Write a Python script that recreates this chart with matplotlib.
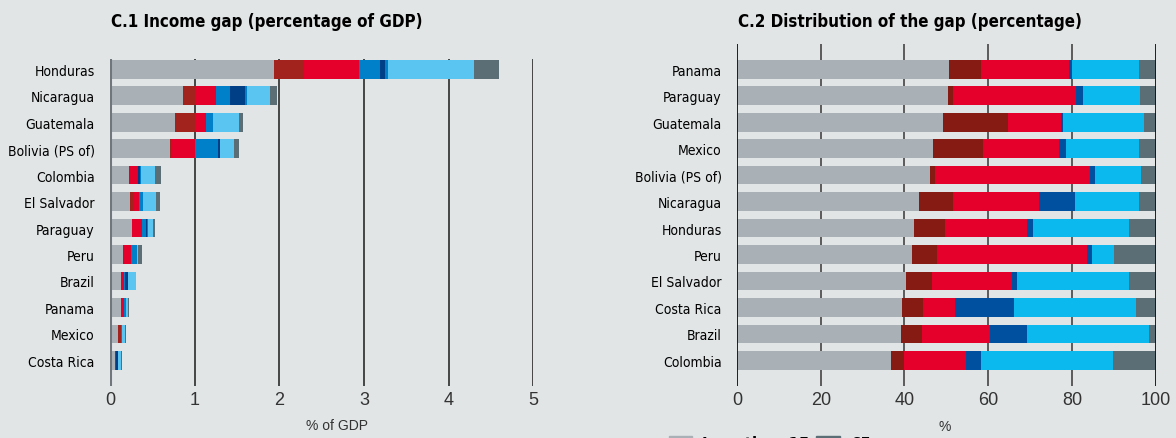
import matplotlib
matplotlib.use('Agg')
import matplotlib.pyplot as plt
import matplotlib.patches as mpatches
import numpy as np

# fonts: narrow for labels, plain for numbers
cond = ['DejaVu Sans']
plain = ['Liberation Sans', 'DejaVu Sans']
bg = '#e1e5e6'

# C.1 income gap, % of GDP (segments left to right)
countries_1 = ['Honduras', 'Nicaragua', 'Guatemala', 'Bolivia (PS of)', 'Colombia',
               'El Salvador', 'Paraguay', 'Peru', 'Brazil', 'Panama', 'Mexico', 'Costa Rica']
gap_lt15 = [1.94, 0.862, 0.77, 0.71, 0.224, 0.236, 0.26, 0.154, 0.13, 0.13, 0.094, 0.057]
gap_dred = [0.35, 0.146, 0.23, 0.01, 0.012, 0.035, 0.0, 0.008, 0.008, 0.0, 0.035, 0.007]
gap_red = [0.65, 0.244, 0.14, 0.28, 0.094, 0.071, 0.118, 0.083, 0.028, 0.035, 0.004, 0.01]
gap_blue = [0.25, 0.165, 0.08, 0.275, 0.0, 0.047, 0.047, 0.071, 0.012, 0.024, 0.004, 0.0]
gap_navy = [0.06, 0.177, 0.0, 0.025, 0.024, 0.0, 0.012, 0.0, 0.035, 0.0, 0.004, 0.02]
gap_blue2 = [0.03, 0.024, 0.0, 0.0, 0.012, 0.0, 0.012, 0.0, 0.0, 0.0, 0.0, 0.0]
gap_light = [1.02, 0.272, 0.30, 0.165, 0.165, 0.154, 0.059, 0.012, 0.094, 0.024, 0.035, 0.041]
gap_65 = [0.30, 0.082, 0.05, 0.055, 0.071, 0.047, 0.024, 0.047, 0.004, 0.012, 0.012, 0.007]
colors_1 = ['#a9b1b7', '#a2231d', '#e4002b', '#0080c8', '#003e85', '#0080c8', '#5bc5f2', '#5b6e75']

# C.2 distribution of the gap, %
countries_2 = ['Panama', 'Paraguay', 'Guatemala', 'Mexico', 'Bolivia (PS of)', 'Nicaragua',
               'Honduras', 'Peru', 'El Salvador', 'Costa Rica', 'Brazil', 'Colombia']
dist_lt15 = [50.7, 50.3, 49.3, 46.9, 46.0, 43.5, 42.4, 41.7, 40.4, 39.5, 39.2, 36.8]
dist_dred = [7.7, 1.4, 15.4, 11.8, 1.4, 8.0, 7.4, 6.1, 6.3, 5.0, 5.1, 3.0]
dist_red = [20.9, 29.4, 12.7, 18.3, 37.0, 20.6, 19.6, 35.8, 18.9, 7.6, 16.2, 14.8]
dist_blue = [0.7, 1.5, 0.5, 1.6, 1.2, 8.6, 1.3, 1.1, 1.2, 14.0, 8.8, 3.8]
dist_cyan = [16.1, 13.7, 19.4, 17.5, 11.0, 15.4, 23.0, 5.3, 26.9, 29.2, 29.2, 31.5]
dist_65 = [3.9, 3.7, 2.7, 3.9, 3.4, 3.9, 6.3, 10.0, 6.3, 4.7, 1.5, 10.1]
colors_2 = ['#a9b1b7', '#861b14', '#e4002b', '#0050a0', '#0bb9ef', '#5b6e75']

fig = plt.figure(figsize=(11.76, 4.39), dpi=100, facecolor=bg)

# ---- C.1 ----
ax1 = fig.add_axes([0.0935, 0.1191, 0.36, 0.7442])
ax1.set_facecolor(bg)
y = np.arange(len(countries_1))
left = np.zeros(len(countries_1))
for seg, c in zip([gap_lt15, gap_dred, gap_red, gap_blue, gap_navy, gap_blue2, gap_light, gap_65], colors_1):
    ax1.barh(y, seg, left=left, height=0.707, color=c, zorder=2)
    left += np.array(seg)
for g in range(1, 6):
    ax1.axvline(g, color='#2a2a2a', lw=1.2, zorder=1)
ax1.axvline(0, color='#6f777c', lw=2.2, zorder=3)
ax1.set_xlim(0, 5)
ax1.set_ylim(11.96, -0.39)
ax1.set_yticks(y)
ax1.set_yticklabels(countries_1, family=cond, stretch='condensed', fontsize=10)
ax1.set_xticks(range(6))
ax1.set_xticklabels([str(i) for i in range(6)], family=plain, fontsize=13, color='#333333')
ax1.tick_params(length=0, axis='y', pad=11)
ax1.tick_params(length=0, axis='x', pad=4)
for s in ax1.spines.values():
    s.set_visible(False)
fig.text(337/1176, 1-426/439, '% of GDP', family=plain, fontsize=10, ha='center', va='center', color='#333333')
fig.text(111/1176, 1-22/439, 'C.1 Income gap (percentage of GDP)', family=cond, stretch='condensed',
         fontsize=12.2, fontweight='bold', ha='left', va='center')

# ---- C.2 ----
ax2 = fig.add_axes([0.6267, 0.1191, 0.3559, 0.7784])
ax2.set_facecolor(bg)
y2 = np.arange(len(countries_2))
left = np.zeros(len(countries_2))
for seg, c in zip([dist_lt15, dist_dred, dist_red, dist_blue, dist_cyan, dist_65], colors_2):
    ax2.barh(y2, seg, left=left, height=0.707, color=c, zorder=2)
    left += np.array(seg)
for g in [20, 40, 60, 80]:
    ax2.axvline(g, color='#444444', lw=1.2, zorder=1)
ax2.axvline(0, color='#111111', lw=1.3, zorder=3)
ax2.axvline(100, color='#111111', lw=1.3, zorder=3)
ax2.set_xlim(0, 100)
ax2.set_ylim(11.96, -0.957)
ax2.set_yticks(y2)
ax2.set_yticklabels(countries_2, family=cond, stretch='condensed', fontsize=10)
ax2.set_xticks(range(0, 101, 20))
ax2.set_xticklabels([str(i) for i in range(0, 101, 20)], family=plain, fontsize=13, color='#333333')
ax2.tick_params(length=0, axis='y', pad=11)
ax2.tick_params(length=0, axis='x', pad=4)
for s in ax2.spines.values():
    s.set_visible(False)
fig.text(945/1176, 1-427/439, '%', family=plain, fontsize=10, ha='center', va='center', color='#333333')
fig.text(738/1176, 1-22/439, 'C.2 Distribution of the gap (percentage)', family=cond, stretch='condensed',
         fontsize=12.2, fontweight='bold', ha='left', va='center')

# legend sits at the very bottom, mostly cut off like in the source
handles = [mpatches.Patch(color=colors_2[0]), mpatches.Patch(color=colors_2[5])]
fig.legend(handles, ['Less than 15', '65+'], loc='upper left', bbox_to_anchor=(669/1176, 1-436/439),
           ncol=2, frameon=False, handlelength=1.4, handleheight=1.0, handletextpad=0.6,
           columnspacing=0.4, borderpad=0, borderaxespad=0,
           prop={'family': cond, 'stretch': 'condensed', 'weight': 'bold', 'size': 12})

fig.savefig('out.png', dpi=100, facecolor=bg)
